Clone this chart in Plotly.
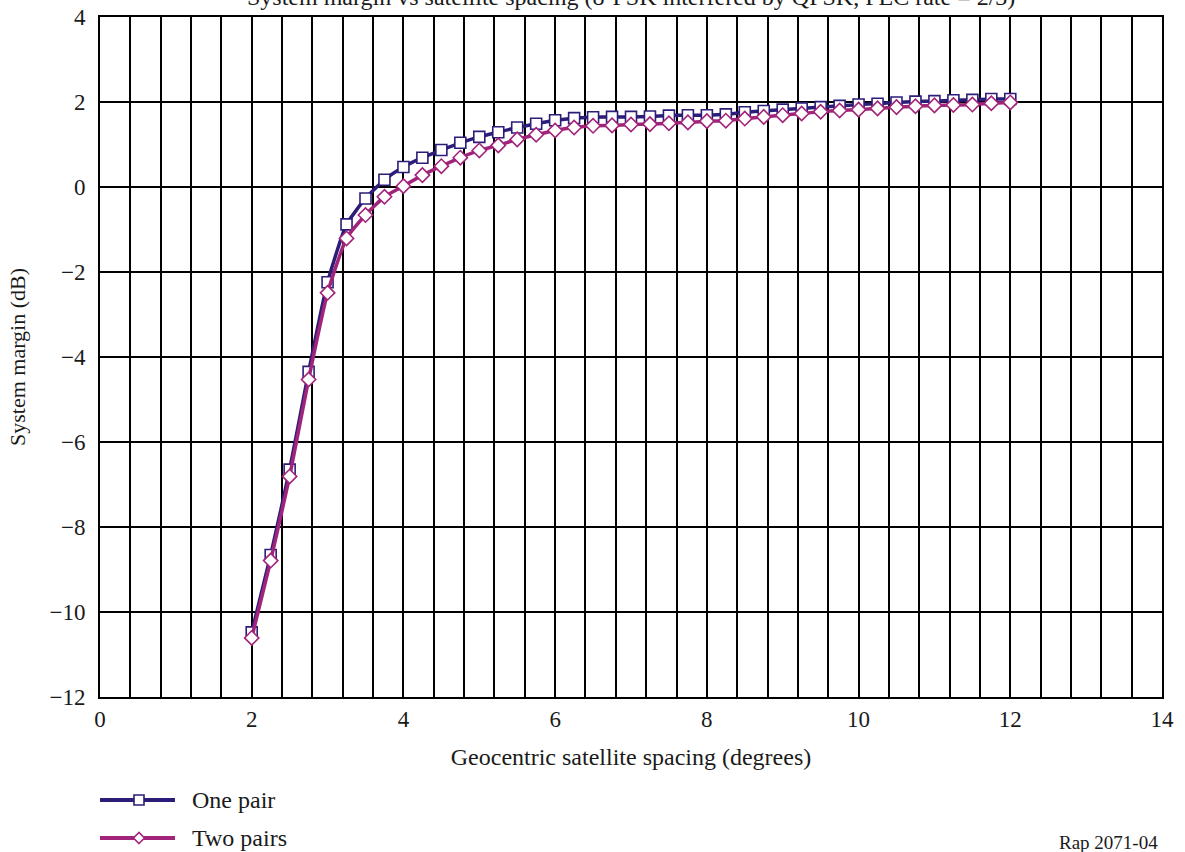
import plotly.graph_objects as go

# ---------------- data ----------------
spacing = [2.0, 2.25, 2.5, 2.75, 3.0, 3.25, 3.5, 3.75, 4.0, 4.25, 4.5, 4.75,
           5.0, 5.25, 5.5, 5.75, 6.0, 6.25, 6.5, 6.75, 7.0, 7.25, 7.5, 7.75,
           8.0, 8.25, 8.5, 8.75, 9.0, 9.25, 9.5, 9.75, 10.0, 10.25, 10.5,
           10.75, 11.0, 11.25, 11.5, 11.75, 12.0]

one_pair = [-10.48, -8.66, -6.65, -4.35, -2.24, -0.88, -0.27, 0.17, 0.47, 0.69,
            0.87, 1.04, 1.18, 1.29, 1.40, 1.49, 1.57, 1.62, 1.64, 1.65, 1.65,
            1.66, 1.68, 1.69, 1.69, 1.71, 1.76, 1.79, 1.82, 1.85, 1.88, 1.91,
            1.94, 1.96, 1.99, 2.01, 2.02, 2.04, 2.05, 2.07, 2.07]

two_pairs = [-10.61, -8.79, -6.81, -4.53, -2.49, -1.21, -0.66, -0.23, 0.02, 0.28,
             0.49, 0.69, 0.86, 0.98, 1.12, 1.23, 1.33, 1.40, 1.44, 1.45, 1.47,
             1.48, 1.50, 1.52, 1.55, 1.56, 1.61, 1.65, 1.69, 1.73, 1.77, 1.80,
             1.82, 1.85, 1.88, 1.90, 1.92, 1.93, 1.94, 1.97, 1.99]

series_names = ["One pair", "Two pairs"]
series_values = [one_pair, two_pairs]
series_colors = ["#2b1d78", "#a2237a"]
series_symbols = ["square", "diamond"]
series_sizes = [11, 11]

title_text = "System margin vs satellite spacing (8-PSK interfered by QPSK, FEC rate = 2/3)"
x_title = "Geocentric satellite spacing (degrees)"
y_title = "System margin (dB)"
source_note = "Rap 2071-04"

FONT = "Liberation Serif"
TXT = "#1a1a1a"

# ---------------- figure ----------------
fig = go.Figure()
for name, vals, col, sym, sz in zip(series_names, series_values, series_colors,
                                     series_symbols, series_sizes):
    fig.add_trace(go.Scatter(
        x=spacing, y=vals, name=name, mode="lines+markers",
        line=dict(color=col, width=3.5, shape="spline", smoothing=0.5),
        marker=dict(symbol=sym, size=sz, color="white",
                    line=dict(color=col, width=1.6)),
        showlegend=False,
    ))

W, H = 1185, 852
ML, MR, MT, MB = 100, 23, 17, 155
PW, PH = W - ML - MR, H - MT - MB

fig.update_layout(
    width=W, height=H,
    margin=dict(l=ML, r=MR, t=MT, b=MB, pad=0),
    paper_bgcolor="white", plot_bgcolor="white",
    font=dict(family=FONT, size=23, color=TXT),
    showlegend=False,
)

fig.update_xaxes(
    range=[0, 14], dtick=2, tick0=0, automargin=False,
    showgrid=True, gridcolor="black", gridwidth=2,
    minor=dict(dtick=0.4, tick0=0, showgrid=True, gridcolor="black", gridwidth=2),
    showline=True, linecolor="black", linewidth=2, mirror=True,
    zeroline=False, ticks="", ticklabelstandoff=0,
    tickfont=dict(family=FONT, size=23, color=TXT),
    title=dict(text=x_title, font=dict(family=FONT, size=24, color=TXT),
               standoff=18),
)
fig.update_yaxes(
    range=[-12, 4], dtick=2, tick0=0, automargin=False,
    showgrid=True, gridcolor="black", gridwidth=2,
    showline=True, linecolor="black", linewidth=2, mirror=True,
    zeroline=False, ticks="", ticklabelstandoff=8,
    tickfont=dict(family=FONT, size=23, color=TXT),
    title=dict(text=y_title, font=dict(family=FONT, size=22, color=TXT),
               standoff=18),
)

# title (partially cut at the top like the reference)
fig.add_annotation(
    text=title_text, xref="paper", yref="paper", x=0.5, y=1 + (MT - 12) / PH,
    xanchor="center", yanchor="bottom", showarrow=False,
    font=dict(family=FONT, size=24, color=TXT),
)

# manual legend below the plot
def px_x(p):
    return (p - ML) / PW

def px_y(p):
    return (H - MB - p) / PH

legend_rows = [800, 838]
for name, col, sym, row in zip(series_names, series_colors, series_symbols, legend_rows):
    yy = px_y(row)
    fig.add_shape(type="line", xref="paper", yref="paper",
                  x0=px_x(100), x1=px_x(175), y0=yy, y1=yy,
                  line=dict(color=col, width=4))
    if sym == "square":
        fig.add_shape(type="rect", xref="paper", yref="paper",
                      xsizemode="pixel", ysizemode="pixel",
                      xanchor=px_x(139), yanchor=yy,
                      x0=-5, x1=5, y0=-5, y1=5,
                      fillcolor="white", line=dict(color=col, width=1.6))
    else:
        fig.add_shape(type="path", xref="paper", yref="paper",
                      xsizemode="pixel", ysizemode="pixel",
                      xanchor=px_x(139), yanchor=yy,
                      path="M 0 -5.5 L 5.5 0 L 0 5.5 L -5.5 0 Z",
                      fillcolor="white", line=dict(color=col, width=1.6))
    fig.add_annotation(text=name, xref="paper", yref="paper",
                       x=px_x(190), y=yy, xanchor="left", yanchor="middle",
                       showarrow=False,
                       font=dict(family=FONT, size=24, color=TXT))

fig.add_annotation(text=source_note, xref="paper", yref="paper",
                   x=px_x(1160), y=px_y(843), xanchor="right", yanchor="middle",
                   showarrow=False,
                   font=dict(family=FONT, size=19, color=TXT))

fig.write_html("out.html")
